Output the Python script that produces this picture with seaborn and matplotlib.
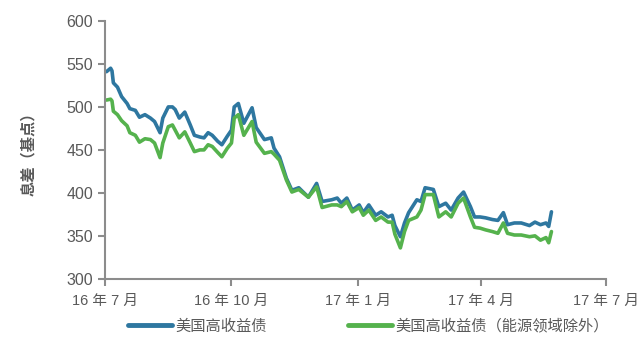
import matplotlib
matplotlib.use("Agg")
import matplotlib.pyplot as plt
import seaborn as sns
import pandas as pd

dates = ["2016-07-02", "2016-07-05", "2016-07-06", "2016-07-07", "2016-07-10", "2016-07-13",
         "2016-07-17", "2016-07-19", "2016-07-23", "2016-07-26", "2016-07-30", "2016-08-03",
         "2016-08-06", "2016-08-10", "2016-08-12", "2016-08-16", "2016-08-19", "2016-08-21",
         "2016-08-24", "2016-08-28", "2016-09-01", "2016-09-04", "2016-09-08", "2016-09-11",
         "2016-09-14", "2016-09-17", "2016-09-21", "2016-09-24", "2016-09-28", "2016-10-01",
         "2016-10-03", "2016-10-06", "2016-10-10", "2016-10-16", "2016-10-19", "2016-10-25",
         "2016-10-30", "2016-11-01", "2016-11-05", "2016-11-10", "2016-11-14", "2016-11-19",
         "2016-11-26", "2016-12-02", "2016-12-06", "2016-12-13", "2016-12-17", "2016-12-20",
         "2016-12-24", "2016-12-28", "2017-01-02", "2017-01-05", "2017-01-09", "2017-01-14",
         "2017-01-18", "2017-01-23", "2017-01-26", "2017-01-28", "2017-02-01", "2017-02-04",
         "2017-02-07", "2017-02-13", "2017-02-16", "2017-02-19", "2017-02-25", "2017-03-01",
         "2017-03-06", "2017-03-10", "2017-03-15", "2017-03-19", "2017-03-24", "2017-03-27",
         "2017-03-31", "2017-04-04", "2017-04-09", "2017-04-13", "2017-04-17", "2017-04-20",
         "2017-04-25", "2017-04-30", "2017-05-06", "2017-05-10", "2017-05-14", "2017-05-18",
         "2017-05-20", "2017-05-22"]

hy_all = [541, 545, 542, 528, 523, 512,
          504, 498, 496, 488, 491, 487,
          483, 470, 487, 500, 500, 497,
          487, 494, 479, 467, 465, 464,
          470, 467, 460, 456, 466, 473,
          500, 504, 481, 499, 476, 462,
          464, 452, 442, 417, 403, 406,
          395, 411, 390, 392, 394, 388,
          394, 380, 386, 377, 386, 374,
          378, 372, 374, 362, 349, 365,
          377, 392, 390, 406, 404, 384,
          388, 380, 394, 401, 384, 372,
          372, 371, 369, 368, 377, 363,
          365, 365, 362, 366, 363, 365,
          361, 378]

hy_ex_energy = [508, 509, 507, 495, 491, 484,
                478, 470, 467, 459, 463, 462,
                458, 441, 458, 477, 479, 473,
                464, 471, 458, 448, 450, 450,
                456, 454, 447, 442, 452, 458,
                487, 491, 467, 483, 459, 446,
                448, 445, 438, 415, 401, 404,
                395, 407, 383, 386, 386, 384,
                390, 378, 383, 374, 380, 368,
                372, 366, 366, 352, 336, 355,
                368, 372, 380, 398, 398, 372,
                378, 372, 388, 394, 372, 360,
                359, 357, 355, 353, 365, 353,
                351, 351, 349, 350, 345, 348,
                342, 355]

series_names = ["美国高收益债", "美国高收益债（能源领域除外）"]
tick_dates = ["2016-07-01", "2016-10-01", "2017-01-01", "2017-04-01", "2017-07-01"]
tick_labels = ["16 年 7 月", "16 年 10 月", "17 年 1 月", "17 年 4 月", "17 年 7 月"]
y_ticks = [300, 350, 400, 450, 500, 550, 600]
y_label = "息差（基点）"

df = pd.DataFrame({"date": pd.to_datetime(dates), series_names[0]: hy_all, series_names[1]: hy_ex_energy})
long = df.melt(id_vars="date", var_name="series", value_name="value")

sns.set_style("ticks")
plt.rcParams['font.family'] = ['Liberation Sans', 'Noto Sans CJK SC', 'DejaVu Sans']

fig = plt.figure(figsize=(6.41, 3.38), dpi=100)
ax = fig.add_axes([0.164, 0.175, 0.782, 0.763])

palette = {series_names[0]: "#2E77A0", series_names[1]: "#55B24D"}
sns.lineplot(data=long, x="date", y="value", hue="series", palette=palette,
             linewidth=2.6, ax=ax, legend=True)

ax.set_xlim(pd.Timestamp(tick_dates[0]), pd.Timestamp(tick_dates[-1]))
ax.set_ylim(300, 600)
ax.set_xticks(pd.to_datetime(tick_dates))
ax.set_xticklabels(tick_labels)
ax.set_yticks(y_ticks)

grey = "#595959"
spine_c = "#8C8C8C"
for s in ["top", "right"]:
    ax.spines[s].set_visible(False)
for s in ["left", "bottom"]:
    ax.spines[s].set_color(spine_c)
    ax.spines[s].set_linewidth(1.5)
ax.tick_params(axis="both", colors=spine_c, labelcolor=grey, labelsize=10.5,
               width=1.5, length=5, direction="out")
ax.tick_params(axis="y", labelsize=11.5)
ax.tick_params(axis="x", pad=6)
ax.set_xlabel("")
ax.set_ylabel(y_label, fontsize=11, color=grey, fontweight="bold", labelpad=22)

handles, labels = ax.get_legend_handles_labels()
ax.get_legend().remove()
leg = fig.legend(handles, labels, loc="center left", bbox_to_anchor=(128 / 641, 1 - 326 / 338),
                 ncol=2, frameon=False, fontsize=11, handlelength=2.9,
                 columnspacing=5.3, handletextpad=0.2, borderpad=0, borderaxespad=0)
for t in leg.get_texts():
    t.set_color(grey)
for l in leg.get_lines():
    l.set_linewidth(3.5)

fig.savefig("out.png", dpi=100)
